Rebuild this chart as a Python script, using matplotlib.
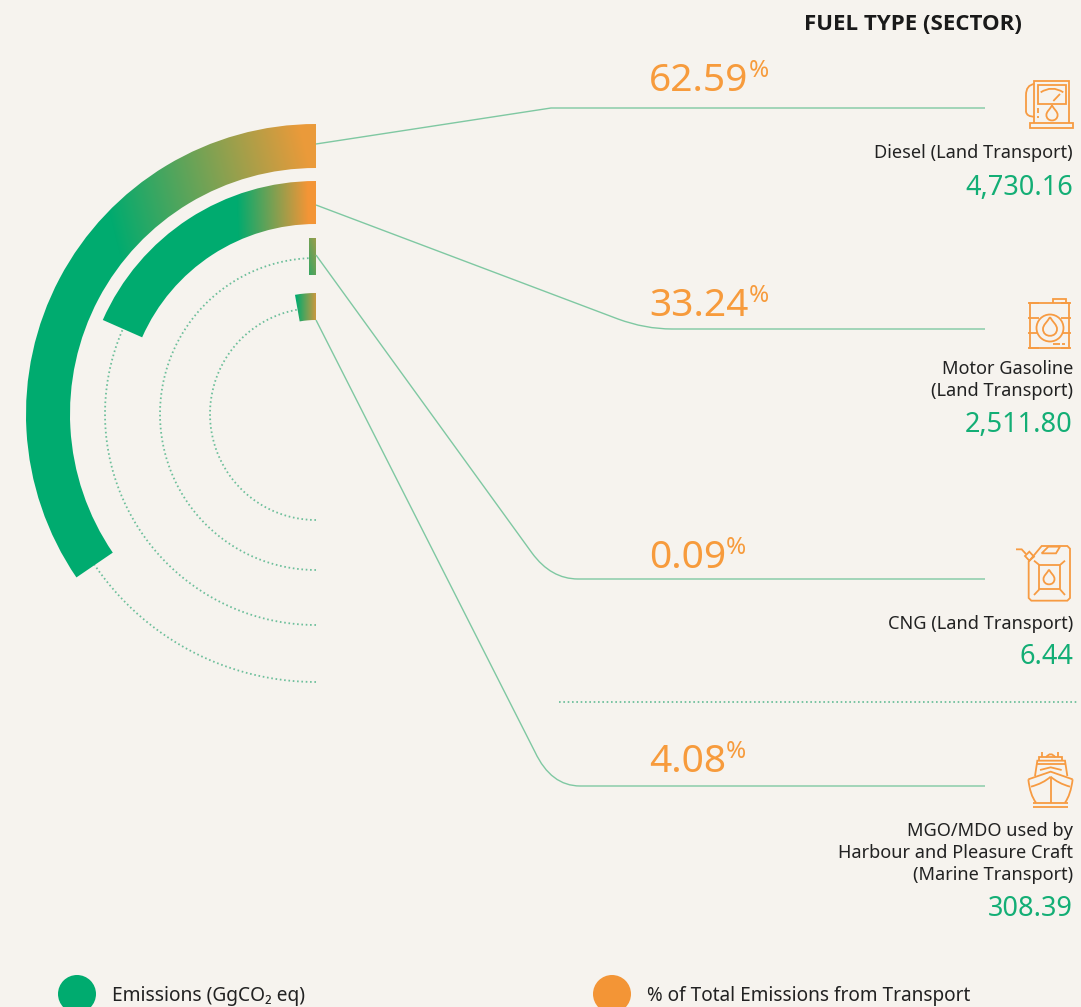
import matplotlib
matplotlib.use('Agg')
import matplotlib.pyplot as plt
import numpy as np
from matplotlib.patches import Wedge, Circle, Rectangle, PathPatch, Polygon
from matplotlib.path import Path
from matplotlib.colors import to_rgb

fuel_labels = ['Diesel (Land Transport)', 'Motor Gasoline\n(Land Transport)',
               'CNG (Land Transport)',
               'MGO/MDO used by\nHarbour and Pleasure Craft\n(Marine Transport)']
emissions = [4730.16, 2511.80, 6.44, 308.39]
shares = [62.59, 33.24, 0.09, 4.08]
arc_span_deg = [124.3, 66.2, 2.5, 10.0]

BG = '#f6f3ee'
GREEN = '#00ab6f'
ORANGE = '#f39536'
LINE = '#7fc8a2'
DOT = '#6dbf9b'
ICON = '#f79b42'
FONT = 'Noto Sans'

W, H = 1081, 1007
fig = plt.figure(figsize=(W / 100, H / 100), dpi=100, facecolor=BG)
ax = fig.add_axes([0, 0, 1, 1])
ax.set_facecolor(BG)
ax.axis('off')

cx, cy = 316, 414
r_outer = [290, 233, 176, 121]
r_inner = [246, 190, 139, 94]
r_dots = [268, 211, 156, 106]
# where the gradient starts/ends in x, the tilt of it, the colour at the right end
grad_x0 = [106, 237, 280, 296]
grad_x1 = [318, 308, 320, 320]
grad_tilt = [-0.25, -0.03, -0.27, 0]
grad_end = ['#ea9a3a', ORANGE, ORANGE, ORANGE]

xx, yy = np.meshgrid(np.arange(W) + 0.5, np.arange(H) + 0.5)

for i in range(4):
    # dotted track from the bottom round to the end of the band
    th = np.radians(np.linspace(90, 270 - arc_span_deg[i], 300))
    ax.plot(cx + r_dots[i] * np.cos(th), cy + r_dots[i] * np.sin(th),
            ls=(0, (0.9, 1.5)), color=DOT, lw=1.3, zorder=1)

for i in range(4):
    if i == 2:
        # too thin for a wedge to look right, the original is a straight sliver
        mid = (r_outer[i] + r_inner[i]) / 2
        w = mid * np.sin(np.radians(arc_span_deg[i]))
        shape = Rectangle((cx - w, cy - r_outer[i]), w, r_outer[i] - r_inner[i],
                          facecolor='none', edgecolor='none')
    else:
        shape = Wedge((cx, cy), r_outer[i], 270 - arc_span_deg[i], 270,
                      width=r_outer[i] - r_inner[i], facecolor='none', edgecolor='none')
    ax.add_patch(shape)
    t = (xx - grad_x0[i] + grad_tilt[i] * (yy - 200)) / (grad_x1[i] - grad_x0[i])
    t = np.clip(t, 0, 1)[..., None]
    c0 = np.array(to_rgb(GREEN))
    c1 = np.array(to_rgb(grad_end[i]))
    img = ax.imshow(c0 + (c1 - c0) * t, extent=(0, W, H, 0), origin='upper',
                    aspect='auto', zorder=2, interpolation='bilinear')
    img.set_clip_path(shape)

# leader lines
M, L, Q = Path.MOVETO, Path.LINETO, Path.CURVE3
C = Path.CURVE4
leaders = [
    ([(316, 144), (551, 108), (985, 108)], [M, L, L]),
    ([(316, 205), (618, 319), (645, 329), (672, 329), (985, 329)], [M, L, Q, Q, L]),
    ([(316, 255), (532, 553), (551, 579), (578, 579), (985, 579)], [M, L, Q, Q, L]),
    ([(316, 320), (535, 752), (551, 786), (580, 786), (985, 786)], [M, L, Q, Q, L]),
]
for pts, codes in leaders:
    ax.add_patch(PathPatch(Path(pts, codes), fc='none', ec=LINE, lw=1.0, zorder=3))
ax.plot([559, 1077], [702, 702], ls=(0, (0.9, 1.5)), color=DOT, lw=1.3)

# text
ax.text(1022, 24, 'FUEL TYPE (SECTOR)', ha='right', va='center', fontsize=16,
        fontweight='bold', family='Open Sans', color='#1a1a1a')

share_y = [91, 316, 568, 772]
for i in range(4):
    s = ax.text(649, share_y[i], f'{shares[i]:.2f}', ha='left', va='baseline',
                fontsize=28, family=FONT, color='#f79b3c')
    fig.canvas.draw()
    x_end = s.get_window_extent().x1
    ax.text(x_end, share_y[i] - 14, '%', ha='left', va='baseline', fontsize=17.5,
            family=FONT, color='#f79b3c')

label_y = [153, 380, 624, 853]
value_y = [188, 425, 657, 909]
for i in range(4):
    ax.text(1073, label_y[i], fuel_labels[i], ha='right', va='center', ma='right',
            fontsize=13.1, family=FONT, color='#222222', linespacing=1.26)
    ax.text(1073, value_y[i], f'{emissions[i]:,.2f}', ha='right', va='center',
            fontsize=19.5, family=FONT, color='#13ae75')

# legend
ax.add_patch(Circle((77, 994), 19, fc=GREEN, ec='none'))
ax.add_patch(Circle((612, 994), 19, fc=ORANGE, ec='none'))
ax.text(112, 996, 'Emissions (GgCO₂ eq)', va='center', fontsize=13.8, family=FONT, color='#222222')
ax.text(647, 996, '% of Total Emissions from Transport', va='center', fontsize=13.7,
        family=FONT, color='#222222')


# icons, coordinates (3x)
def ic(ox, oy, pts):
    return [(ox + x / 3, oy + y / 3) for x, y in pts]


def stroke(ox, oy, pts, closed=False, curve=False):
    p = ic(ox, oy, pts)
    if curve:
        # quadratic: start, ctrl, end
        patch = PathPatch(Path(p, [M, Q, Q]), fc='none', ec=ICON, lw=1.3, zorder=4)
    else:
        patch = Polygon(p, closed=closed, fc='none', ec=ICON, lw=1.3, zorder=4)
    ax.add_patch(patch)


def drop(x, y, r):
    verts = [(x, y - 1.7 * r),
             (x + 0.4 * r, y - r), (x + r, y - 0.6 * r), (x + r, y),
             (x + r, y + 1.3 * r), (x - r, y + 1.3 * r), (x - r, y),
             (x - r, y - 0.6 * r), (x - 0.4 * r, y - r), (x, y - 1.7 * r)]
    ax.add_patch(PathPatch(Path(verts, [M] + [C] * 9), fc='none', ec=ICON, lw=1.3, zorder=5))


# pump
o = (800, 0)
stroke(*o, [(703, 370), (703, 243), (808, 243), (808, 370)])
stroke(*o, [(691, 370), (820, 370), (820, 384), (691, 384)], closed=True)
stroke(*o, [(713, 254), (797, 254), (797, 311), (713, 311)], closed=True)
stroke(*o, [(722, 277), (756, 255), (790, 277)], curve=True)
stroke(*o, [(760, 303), (780, 282)])
stroke(*o, [(703, 252), (678, 255), (678, 285)], curve=True)
stroke(*o, [(678, 285), (678, 335)])
stroke(*o, [(678, 335), (680, 350), (703, 350)], curve=True)
stroke(*o, [(714, 325), (714, 338)])
stroke(*o, [(714, 347), (714, 354)])
drop(1052, 115, 5.6)

# tank
o = (900, 280)
stroke(*o, [(390, 70), (508, 70), (508, 205), (390, 205)], closed=True)
stroke(*o, [(460, 70), (460, 56), (497, 56), (497, 70)])
for yy_ in (70, 113, 160, 205):
    stroke(*o, [(385, yy_), (418, yy_)])
    stroke(*o, [(482, yy_), (512, yy_)])
ax.add_patch(Circle((1050, 328), 13.5, fc=BG, ec=ICON, lw=1.3, zorder=4))
drop(1050, 329, 7)
stroke(*o, [(458, 193), (480, 193)])
stroke(*o, [(487, 193), (495, 193)])

# jerry can
o = (950, 530)
stroke(*o, [(275, 48), (352, 48), (360, 56), (360, 204), (352, 212), (244, 212), (236, 204), (236, 95)],
       closed=True)
stroke(*o, [(275, 70), (295, 50), (330, 50), (318, 70)], closed=True)
stroke(*o, [(268, 105), (330, 105), (330, 178), (268, 178)], closed=True)
for seg in ([(268, 105), (252, 92)], [(330, 105), (345, 92)], [(268, 178), (252, 195)], [(330, 178), (345, 195)]):
    stroke(*o, seg)
stroke(*o, [(225, 78), (238, 65), (252, 80), (238, 92)], closed=True)
stroke(*o, [(198, 58), (215, 58), (228, 72)])
drop(1049, 579, 5.5)

# ship
o = (950, 740)
stroke(*o, [(235, 118), (302, 95), (368, 118)])
stroke(*o, [(235, 118), (240, 165), (258, 188)], curve=True)
stroke(*o, [(368, 118), (362, 165), (345, 188)], curve=True)
stroke(*o, [(302, 110), (302, 188)])
stroke(*o, [(243, 140), (280, 130), (302, 110)], curve=True)
stroke(*o, [(360, 140), (324, 130), (302, 110)], curve=True)
stroke(*o, [(255, 108), (262, 62), (345, 62), (352, 108)])
stroke(*o, [(268, 62), (268, 52), (335, 52), (335, 62)])
stroke(*o, [(288, 52), (302, 33), (316, 52)], curve=True)
stroke(*o, [(275, 35), (275, 52)])
stroke(*o, [(325, 35), (325, 52)])
stroke(*o, [(270, 90), (302, 82), (335, 90)])
stroke(*o, [(262, 72), (345, 72)])
stroke(*o, [(250, 188), (355, 188)])
stroke(*o, [(250, 200), (355, 200)])

ax.set_xlim(0, W)
ax.set_ylim(H, 0)
fig.savefig('out.png', dpi=100, facecolor=BG)
